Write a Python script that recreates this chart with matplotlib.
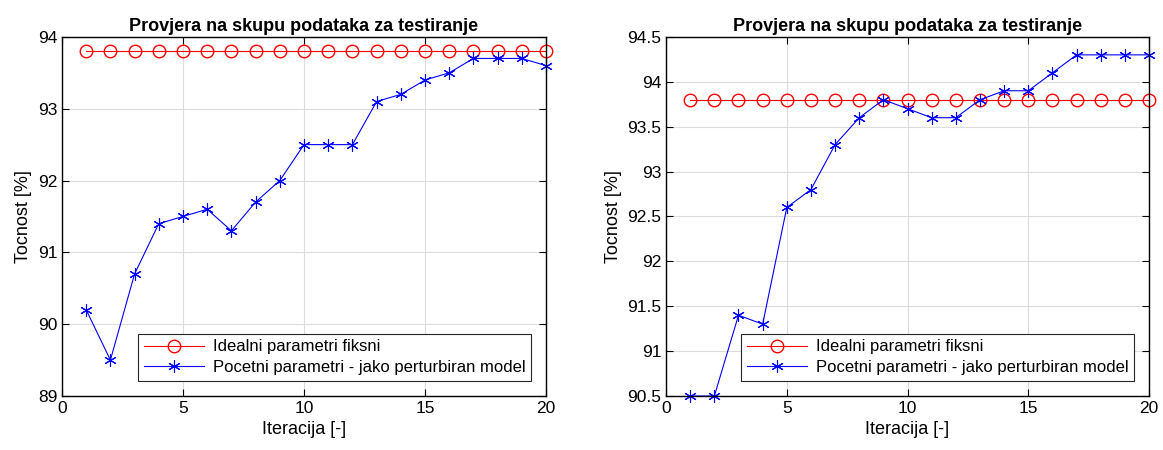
import numpy as np
import matplotlib.pyplot as plt

plt.rcParams['font.family'] = ['Liberation Sans', 'DejaVu Sans']

iteracije = list(range(1, 21))
idealni = [93.8] * 20
pocetni_lijevo = [90.2, 89.5, 90.7, 91.4, 91.5, 91.6, 91.3, 91.7, 92.0, 92.5,
                  92.5, 92.5, 93.1, 93.2, 93.4, 93.5, 93.7, 93.7, 93.7, 93.6]
pocetni_desno = [90.5, 90.5, 91.4, 91.3, 92.6, 92.8, 93.3, 93.6, 93.8, 93.7,
                 93.6, 93.6, 93.8, 93.9, 93.9, 94.1, 94.3, 94.3, 94.3, 94.3]

naslov = 'Provjera na skupu podataka za testiranje'
oznake = ['Idealni parametri fiksni', 'Pocetni parametri - jako perturbiran model']

fig = plt.figure(figsize=(11.63, 4.5), dpi=100)
ax1 = fig.add_axes([0.0533, 0.12, 0.4162, 0.798])
ax2 = fig.add_axes([0.5727, 0.12, 0.4153, 0.798])

def crtaj(ax, pocetni, ylim, yticks, yoznake):
    ax.plot(iteracije, idealni, color='#ff0000', marker='o', markersize=9,
            markerfacecolor='none', linewidth=0.8, label=oznake[0], clip_on=False)
    # zvjezdica kao u MATLAB-u
    ax.plot(iteracije, pocetni, color='#0000ff', marker=(6, 2, 0), markersize=9,
            linewidth=0.8, label=oznake[1], markeredgewidth=0.8, clip_on=False)
    ax.set_xlim(0, 20)
    ax.set_ylim(*ylim)
    ax.set_xticks([0, 5, 10, 15, 20])
    ax.set_yticks(yticks)
    ax.set_yticklabels(yoznake)
    ax.grid(True, color='#dcdcdc', linewidth=0.8)
    ax.set_axisbelow(True)
    ax.tick_params(direction='in', top=True, right=True, labelsize=12.5, length=5)
    for s in ax.spines.values():
        s.set_linewidth(1.0)
    ax.set_title(naslov, fontsize=13, fontweight='bold', pad=4)
    ax.set_xlabel('Iteracija [-]', fontsize=13)
    ax.set_ylabel('Tocnost [%]', fontsize=13)
    leg = ax.legend(loc='lower right', fontsize=12, fancybox=False,
                    framealpha=1, edgecolor='#262626', borderpad=0.35,
                    handlelength=3.6, labelspacing=0.35, borderaxespad=0.9,
                    handletextpad=0.5)
    leg.set_zorder(5)
    leg.get_frame().set_linewidth(0.8)

crtaj(ax1, pocetni_lijevo, (89, 94), [89, 90, 91, 92, 93, 94],
      ['89', '90', '91', '92', '93', '94'])
crtaj(ax2, pocetni_desno, (90.5, 94.5), np.arange(90.5, 94.51, 0.5),
      ['90.5', '91', '91.5', '92', '92.5', '93', '93.5', '94', '94.5'])

fig.savefig('out.png', dpi=100)
